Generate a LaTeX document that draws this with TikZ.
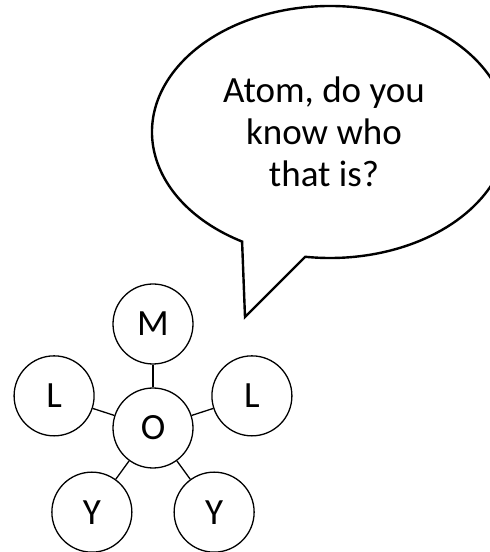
\documentclass[tikz,border=0pt]{standalone}
\usepackage{fontspec}
\setmainfont{Carlito}
\usepackage{tikz}
\usetikzlibrary{calc}

\begin{document}
\begin{tikzpicture}[x=1pt,y=1pt,
    atom/.style={circle,draw,line width=1.3pt,minimum size=80pt,inner sep=0pt,
      font=\fontsize{37}{42}\selectfont},
    bond/.style={line width=1.3pt}]
    % Define the bond length and the bubble radii
    \def\r{104}  % distance between atom centres
    \def\a{178}  % x radius of the bubble
    \def\b{126}  % y radius of the bubble

    \clip (0,0) rectangle (490,552);
    \fill[white] (0,0) rectangle (490,552);

    % Draw the speech bubble
    \coordinate (E) at (330,420);
    \coordinate (T) at (245,235);
    \draw[line width=2.4pt,line join=miter]
      ($(E)+({\a*cos(240.4)},{\b*sin(240.4)})$)
      arc[start angle=240.4,end angle=-98,x radius=\a,y radius=\b] -- (T) -- cycle;
    \node[align=center,font=\fontsize{37}{42}\selectfont] (question) at ($(E)+(-6,0)$)
      {Atom, do you\\know who\\that is?};

    % Draw the atoms
    \node[atom] (O) at (153,124) {O};
    \node[atom] (M) at ($(O)+(90:\r)$) {M};
    \node[atom] (L1) at ($(O)+(162:\r)$) {L};
    \node[atom] (Y1) at ($(O)+(234:\r)$) {Y};
    \node[atom] (Y2) at ($(O)+(306:\r)$) {Y};
    \node[atom] (L2) at ($(O)+(18:\r)$) {L};

    % Draw the bonds
    \draw[bond] (O) -- (M);
    \draw[bond] (O) -- (L1);
    \draw[bond] (O) -- (Y1);
    \draw[bond] (O) -- (Y2);
    \draw[bond] (O) -- (L2);

\end{tikzpicture}
\end{document}
